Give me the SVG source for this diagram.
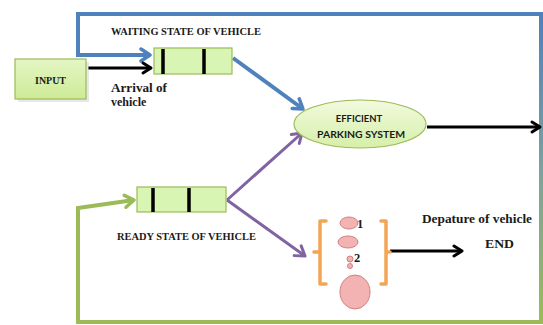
<svg xmlns="http://www.w3.org/2000/svg" width="543" height="325" viewBox="0 0 543 325">
<defs>
<style>
.serif{font-family:"Liberation Serif","Times New Roman",serif;font-weight:bold;fill:#1a1a1a}
.sans{font-family:Lato,"Liberation Sans",sans-serif;font-weight:bold;fill:#1a1a1a}
.queue{fill:#d9f5b3;stroke:#9bbb59;stroke-width:1.2}
.bar{stroke:#000;stroke-width:3.5}
.pink{fill:#f4b3b3;stroke:#d08080;stroke-width:1}
.bracket{fill:none;stroke:#f2a555;stroke-width:3.5;stroke-linejoin:round;stroke-linecap:round}
.blue{fill:none;stroke:#4f81bd;stroke-width:4}
.green{fill:none;stroke:#9bbb59;stroke-width:4}
.purple{fill:none;stroke:#8064a2;stroke-width:3}
.black{fill:none;stroke:#000;stroke-width:3}
</style>
<linearGradient id="rightGrad" gradientUnits="userSpaceOnUse" x1="541" y1="14" x2="541" y2="322">
<stop offset="0" stop-color="#4f81bd"/>
<stop offset="0.5" stop-color="#7aa2a0"/>
<stop offset="1" stop-color="#9bbb59"/>
</linearGradient>
<linearGradient id="ellGrad" x1="0" y1="0" x2="0" y2="1">
<stop offset="0" stop-color="#f2fadf"/>
<stop offset="1" stop-color="#d6efa8"/>
</linearGradient>
<linearGradient id="boxGrad" x1="0" y1="0" x2="0" y2="1">
<stop offset="0" stop-color="#e4f6c4"/>
<stop offset="1" stop-color="#cdeb97"/>
</linearGradient>
<marker id="ahBlue" markerUnits="userSpaceOnUse" viewBox="0 0 16 16" markerWidth="16" markerHeight="16" refX="13" refY="8" orient="auto">
<path d="M4,2 L13,8 L4,14" fill="none" stroke="#4f81bd" stroke-width="3.5" stroke-linecap="round" stroke-linejoin="round"/>
</marker>
<marker id="ahGreen" markerUnits="userSpaceOnUse" viewBox="0 0 16 16" markerWidth="16" markerHeight="16" refX="13" refY="8" orient="auto">
<path d="M4,2 L13,8 L4,14" fill="none" stroke="#9bbb59" stroke-width="3.5" stroke-linecap="round" stroke-linejoin="round"/>
</marker>
<marker id="ahPurple" markerUnits="userSpaceOnUse" viewBox="0 0 16 16" markerWidth="16" markerHeight="16" refX="13" refY="8" orient="auto">
<path d="M4,2 L13,8 L4,14" fill="none" stroke="#8064a2" stroke-width="3" stroke-linecap="round" stroke-linejoin="round"/>
</marker>
<marker id="ahBlack" markerUnits="userSpaceOnUse" viewBox="0 0 16 16" markerWidth="16" markerHeight="16" refX="13" refY="8" orient="auto">
<path d="M5,3 L13,8 L5,13" fill="none" stroke="#000" stroke-width="3" stroke-linecap="round" stroke-linejoin="round"/>
</marker>
</defs>
<rect width="543" height="325" fill="#ffffff"/>

<g id="connectors">
<path class="blue" d="M541,14 H78 V55 H150" marker-end="url(#ahBlue)"/>
<line x1="541" y1="12" x2="541" y2="324" stroke="url(#rightGrad)" stroke-width="4"/>
<path class="green" d="M541,322 H78 V208 L134,200" marker-end="url(#ahGreen)"/>
<line class="black" x1="88" y1="68" x2="151" y2="68" marker-end="url(#ahBlack)"/>
<line class="blue" x1="233" y1="58" x2="303" y2="109" marker-end="url(#ahBlue)"/>
<line class="purple" x1="227" y1="200" x2="302" y2="133" marker-end="url(#ahPurple)"/>
<line class="purple" x1="227" y1="200" x2="305" y2="256" marker-end="url(#ahPurple)"/>
<line class="black" x1="427" y1="127" x2="540" y2="127" marker-end="url(#ahBlack)"/>
<line class="black" x1="390" y1="251" x2="462" y2="251" marker-end="url(#ahBlack)"/>
</g>

<g id="input">
<rect x="16" y="60" width="71" height="40" fill="#d0d0d0" transform="translate(2,2)" opacity="0.5"/>
<rect x="15" y="59" width="71" height="40" fill="url(#boxGrad)" stroke="#9bbb59" stroke-width="1.2"/>
<text class="serif" x="50.5" y="84" font-size="11" text-anchor="middle" textLength="31" lengthAdjust="spacingAndGlyphs">INPUT</text>
</g>

<g id="waiting-queue">
<rect class="queue" x="154" y="48" width="78" height="26"/>
<line class="bar" x1="163" y1="49" x2="163" y2="74"/>
<line class="bar" x1="204" y1="49" x2="204" y2="74"/>
<text class="serif" x="111" y="35" font-size="10" textLength="150" lengthAdjust="spacingAndGlyphs">WAITING STATE OF VEHICLE</text>
<text class="serif" x="111" y="92" font-size="12" textLength="56" lengthAdjust="spacingAndGlyphs">Arrival of</text>
<text class="serif" x="111" y="106" font-size="12">vehicle</text>
</g>

<g id="parking-system">
<ellipse cx="360" cy="124" rx="66" ry="24" fill="url(#ellGrad)" stroke="#9bbb59" stroke-width="1.2"/>
<text class="sans" x="359" y="122" font-size="9.5" text-anchor="middle">EFFICIENT</text>
<text class="sans" x="361" y="138" font-size="9.5" text-anchor="middle" textLength="88" lengthAdjust="spacingAndGlyphs">PARKING SYSTEM</text>
</g>

<g id="ready-queue">
<rect class="queue" x="137" y="187" width="89" height="25"/>
<line class="bar" x1="153" y1="188" x2="153" y2="212"/>
<line class="bar" x1="189" y1="188" x2="189" y2="212"/>
<text class="serif" x="117" y="240" font-size="10" textLength="139" lengthAdjust="spacingAndGlyphs">READY STATE OF VEHICLE</text>
</g>

<g id="slots">
<path class="bracket" d="M326,221 H320 V284 H326 M320,252 H314"/>
<path class="bracket" d="M381,221 H386 V284 H381 M386,252 H390"/>
<ellipse class="pink" cx="349" cy="223" rx="9" ry="6"/>
<ellipse class="pink" cx="348" cy="242" rx="10" ry="6"/>
<circle class="pink" cx="350" cy="259" r="3"/>
<circle class="pink" cx="350" cy="266" r="2.5"/>
<ellipse class="pink" cx="355" cy="292" rx="15" ry="17"/>
<text class="serif" x="357" y="228" font-size="12.5">1</text>
<text class="serif" x="354" y="262" font-size="12.5">2</text>
</g>

<g id="end">
<text class="serif" x="422" y="223" font-size="11.5" textLength="110" lengthAdjust="spacingAndGlyphs">Depature of vehicle</text>
<text class="serif" x="485" y="248" font-size="12" textLength="29" lengthAdjust="spacingAndGlyphs">END</text>
</g>
</svg>
